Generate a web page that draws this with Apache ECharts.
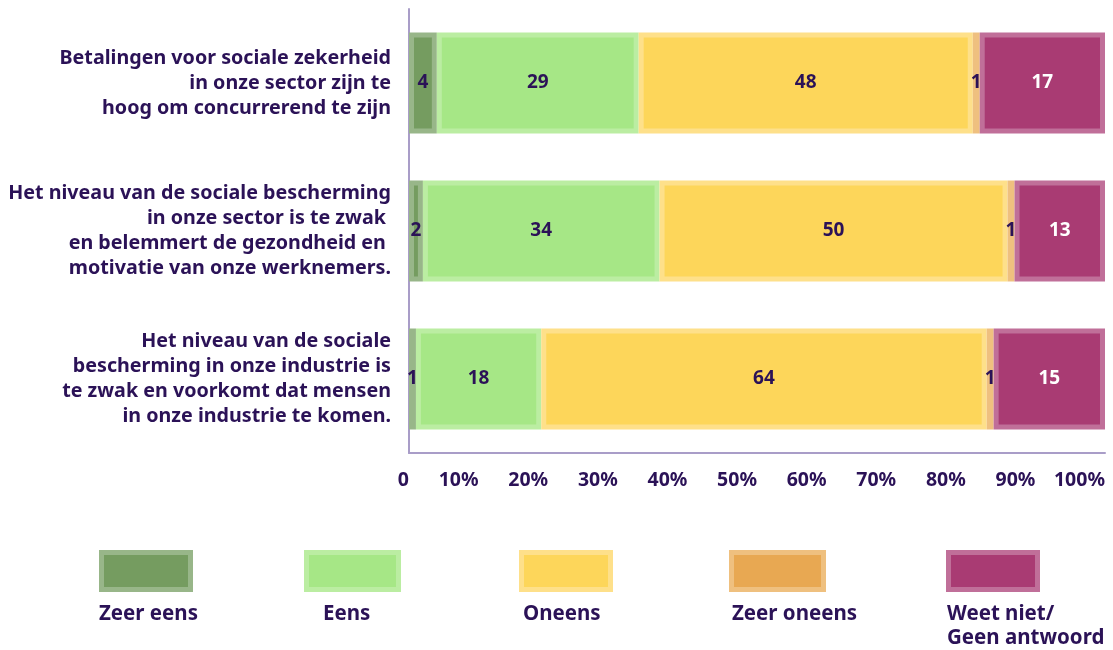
<!DOCTYPE html>
<html>
<head>
<meta charset="utf-8">
<script src="https://cdn.jsdelivr.net/npm/echarts@6/dist/echarts.min.js"></script>
<style>
  html, body { margin: 0; padding: 0; background: #fff; }
  #chart { width: 1113px; height: 650px; }
</style>
</head>
<body>
<div id="chart"></div>
<script>
// categories, top to bottom
const categories = [
  'Betalingen voor sociale zekerheid\nin onze sector zijn te\nhoog om concurrerend te zijn',
  'Het niveau van de sociale bescherming\nin onze sector is te zwak \nen belemmert de gezondheid en \nmotivatie van onze werknemers.',
  'Het niveau van de sociale\nbescherming in onze industrie is\nte zwak en voorkomt dat mensen\nin onze industrie te komen.'
];
const seriesNames = ['Zeer eens', 'Eens', 'Oneens', 'Zeer oneens', 'Weet niet/\nGeen antwoord'];
const zeerEens = [4, 2, 1];
const eens = [29, 34, 18];
const oneens = [48, 50, 64];
const zeerOneens = [1, 1, 1];
const weetNiet = [17, 13, 15];
const xTickLabels = ['0', '10%', '20%', '30%', '40%', '50%', '60%', '70%', '80%', '90%', '100%'];

const fills = ['#759c60', '#a6e786', '#fdd65a', '#e8a852', '#a93b73'];
const borders = ['#98b689', '#bbeda2', '#fee08a', '#efc07f', '#c06f99'];
const txt = '#2b1257';
const axisCol = '#a99dc8';
const font = 'Noto Sans';

const allSeries = [zeerEens, eens, oneens, zeerOneens, weetNiet];

const chart = echarts.init(document.getElementById('chart'));

// the last block runs on to 100%, its label keeps the given number
const series = allSeries.map((arr, k) => ({
  name: seriesNames[k],
  type: 'bar',
  stack: 'total',
  barWidth: 101,
  data: arr.map((v, i) => {
    let len = v;
    if (k === 4) {
      len = 100 - zeerEens[i] - eens[i] - oneens[i] - zeerOneens[i];
    }
    return { value: len, raw: v };
  }),
  itemStyle: { color: fills[k], borderColor: borders[k], borderWidth: 5 },
  label: {
    show: true,
    position: 'inside',
    formatter: p => p.data.raw,
    fontFamily: font,
    fontSize: 19,
    fontWeight: 'bold',
    color: k === 4 ? '#ffffff' : txt
  }
}));

// legend built by hand: box above, text below
const legLeft = [99, 304, 519, 729, 946];
const legW = [94, 97, 94, 97, 94];
const legText = [99, 323, 523, 732, 947];
const graphic = [];
seriesNames.forEach((n, k) => {
  graphic.push({
    type: 'rect',
    shape: { x: legLeft[k] + 2.5, y: 552.5, width: legW[k] - 5, height: 37 },
    style: { fill: fills[k], stroke: borders[k], lineWidth: 5 }
  });
  graphic.push({
    type: 'text',
    x: legText[k],
    y: 602,
    style: {
      text: n,
      fill: txt,
      font: 'bold 20.5px "' + font + '"',
      lineHeight: 24,
      textVerticalAlign: 'top'
    }
  });
});

chart.setOption({
  animation: false,
  grid: { left: 409, right: 8, top: 9, bottom: 197 },
  xAxis: {
    type: 'value',
    min: 0,
    max: 100,
    interval: 10,
    axisLine: { show: true, lineStyle: { color: axisCol, width: 2 } },
    axisTick: { show: false },
    splitLine: { show: false },
    axisLabel: {
      formatter: v => xTickLabels[Math.round(v / 10)],
      align: 'right',
      margin: 17,
      color: txt,
      fontFamily: font,
      fontSize: 19.5,
      fontWeight: 'bold'
    }
  },
  yAxis: {
    type: 'category',
    inverse: true,
    data: categories,
    axisLine: { show: true, lineStyle: { color: axisCol, width: 2 } },
    axisTick: { show: false },
    axisLabel: {
      margin: 18,
      color: txt,
      fontFamily: font,
      fontSize: 19.7,
      fontWeight: 'bold',
      lineHeight: 25,
      padding: [4, 0, 0, 0],
      align: 'right'
    }
  },
  graphic: graphic,
  series: series
});
</script>
</body>
</html>
